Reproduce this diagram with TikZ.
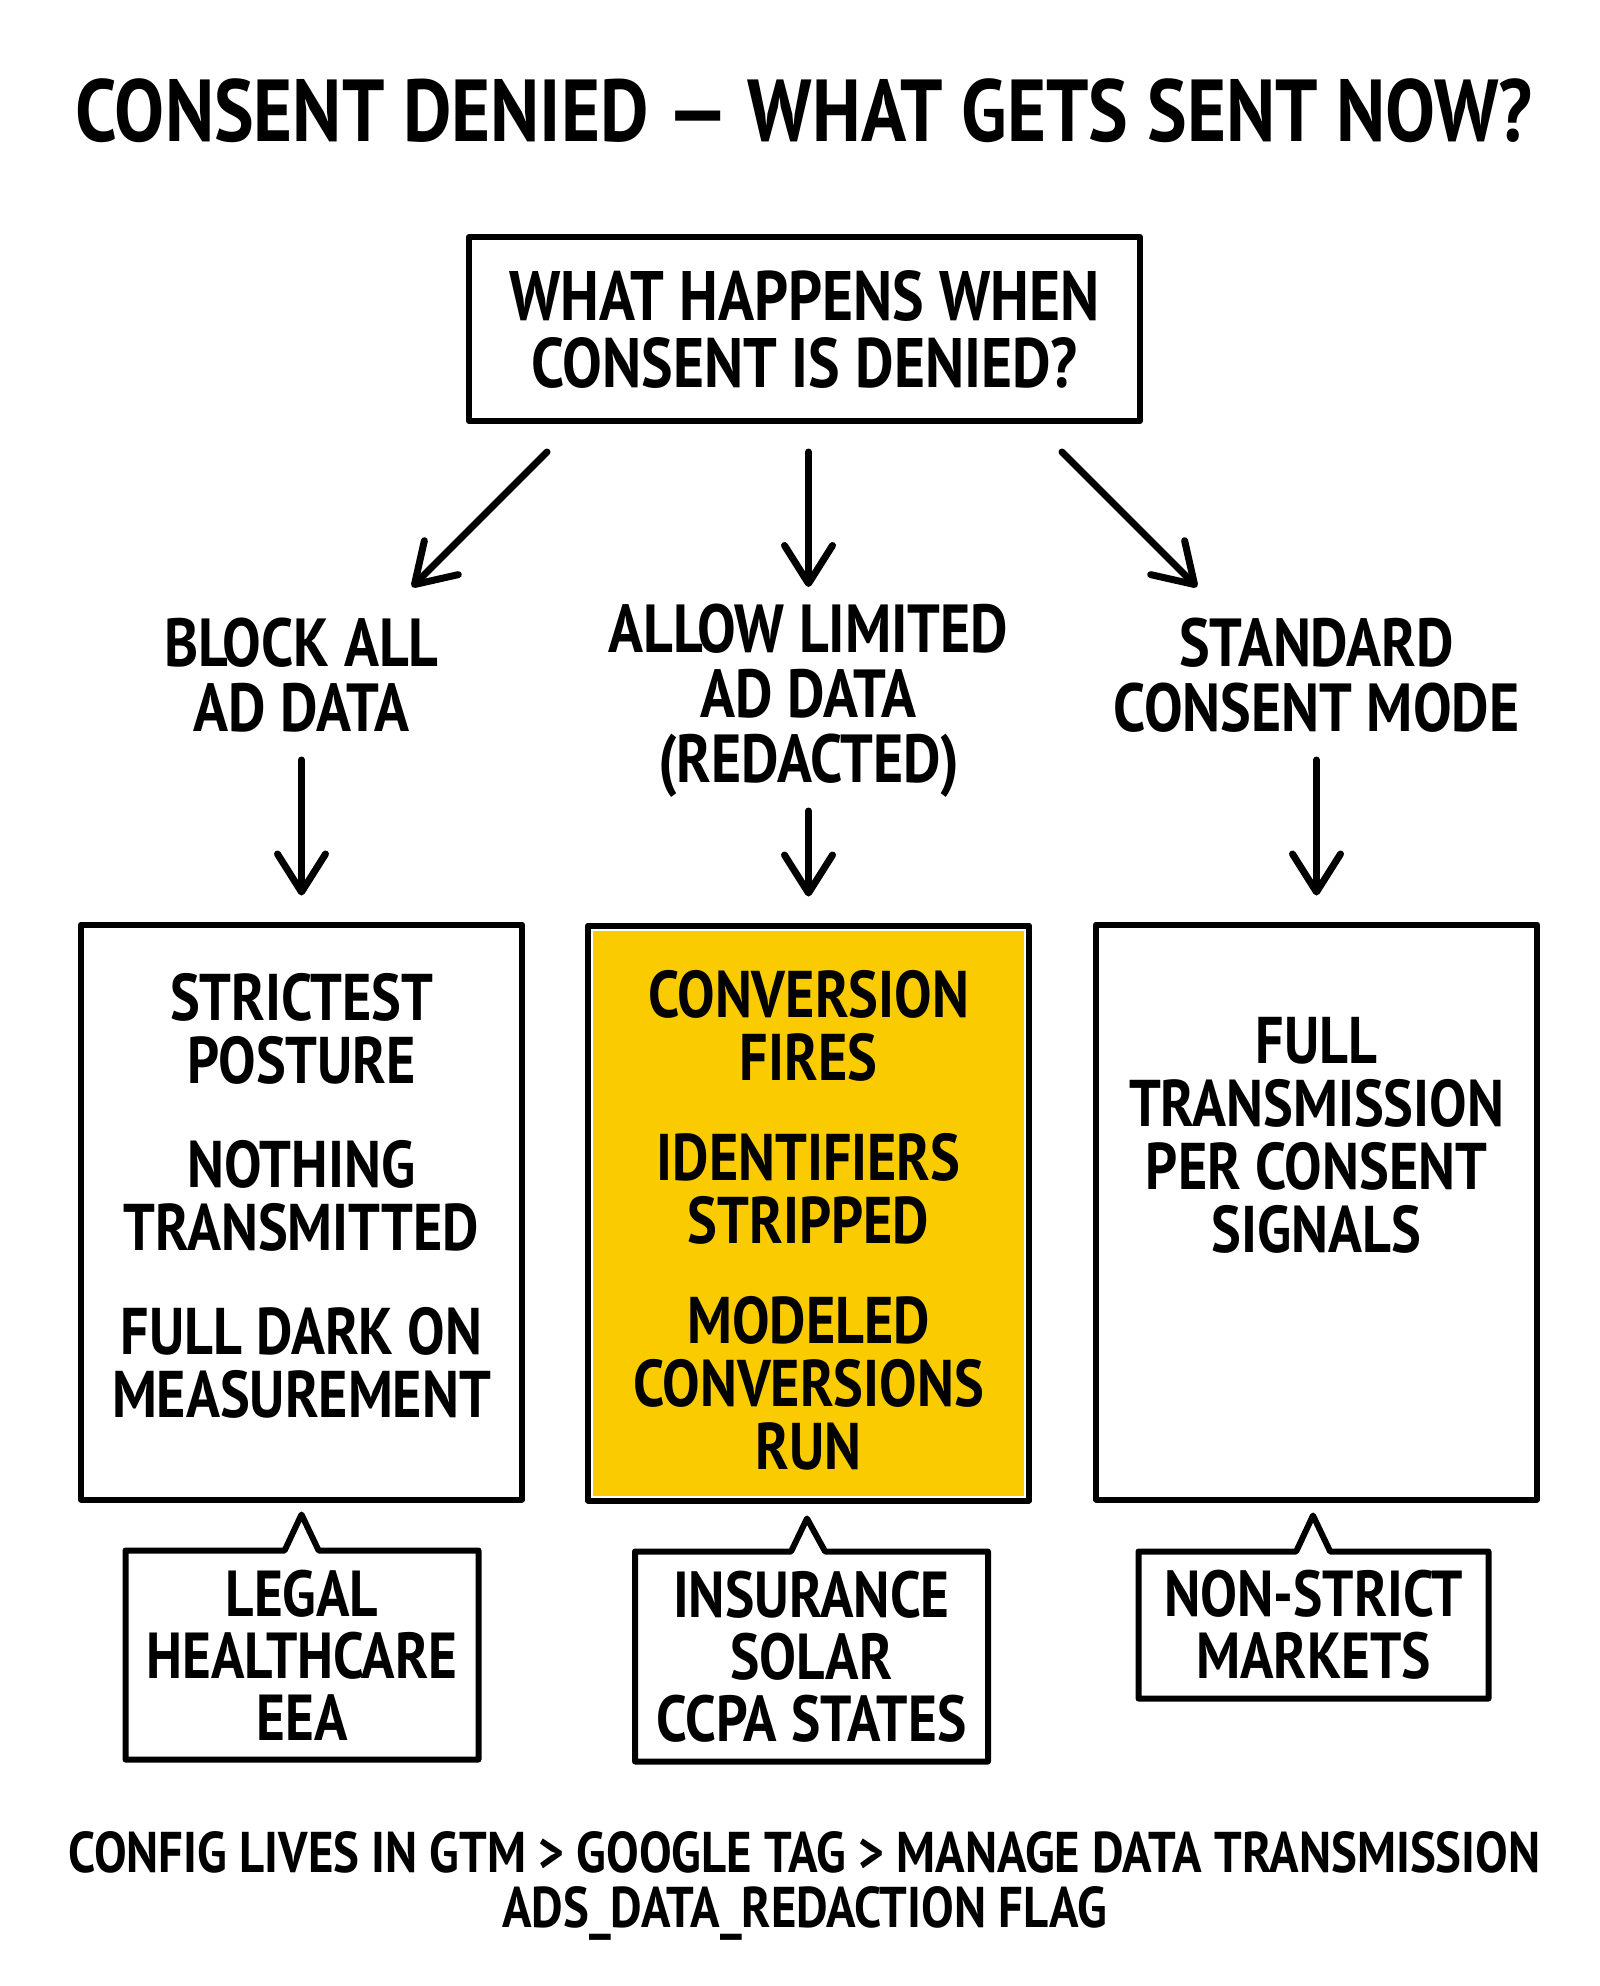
\documentclass[tikz,border=0pt]{standalone}
\usepackage{fontspec}
\setmainfont{PT Sans}[FakeStretch=0.85]
\usetikzlibrary{arrows.meta,shapes.callouts}
\definecolor{marker}{RGB}{250,204,0}

\begin{document}
\begin{tikzpicture}[x=0.5pt,y=-0.5pt,
  > = {Straight Barb[length=19pt,width=24pt,line cap=round,line join=round]},
  arr/.style={->,line width=3.5pt,line cap=round},
  box/.style={draw,line width=3pt,line join=round,inner sep=0pt,
    minimum width=220.5pt,minimum height=287.5pt},
  txt/.style={align=center,inner sep=0pt,font=\bfseries\fontsize{33}{31.5}\selectfont},
  note/.style={rectangle callout,draw,line width=3pt,line join=round,
    callout pointer width=17pt,minimum width=176.5pt,inner sep=0pt,
    align=center,font=\bfseries\fontsize{32.5}{31}\selectfont}]
\fill[white] (0,0) rectangle (1600,1986);
\useasboundingbox (0,0) rectangle (1600,1986);

\node[font=\bfseries\fontsize{44}{44}\selectfont] (title) at (804,111)
  {CONSENT DENIED --- WHAT GETS SENT NOW?};

\node[draw,line width=3pt,line join=round,align=center,minimum width=335.5pt,
  minimum height=92pt,font=\bfseries\fontsize{35}{33.5}\selectfont] (q) at (804.5,329)
  {WHAT HAPPENS WHEN\\CONSENT IS DENIED?};

% the three options
\node[txt,font=\bfseries\fontsize{34}{32.5}\selectfont] (optA) at (301.5,675) {BLOCK ALL\\AD DATA};
\node[txt,font=\bfseries\fontsize{34}{32.5}\selectfont] (optB) at (808.5,701) {ALLOW LIMITED\\AD DATA\\(REDACTED)};
\node[txt,font=\bfseries\fontsize{34}{32.5}\selectfont] (optC) at (1316.5,675) {STANDARD\\CONSENT MODE};

\draw[arr] ([shift={(-257.5,28)}]q.south) -- ([shift={(110.5,-88)}]optA.center);
\draw[arr] ([shift={(4,28)}]q.south) -- ([shift={(0,-114)}]optB.center);
\draw[arr] ([shift={(257.5,28)}]q.south) -- ([shift={(-119.5,-88)}]optC.center);

% result boxes
\node[box] (boxL) at (301.5,1212) {};
\node[box] (boxM) at (808.5,1213) {};
\node[box] (boxR) at (1316.5,1212) {};
\fill[marker] ([shift={(8,8)}]boxM.north west) rectangle ([shift={(-8,-8)}]boxM.south east);

\draw[arr] ([shift={(0,85)}]optA.center) -- ([shift={(0,-26)}]boxL.north);
\draw[arr] ([shift={(0,110)}]optB.center) -- ([shift={(0,-26)}]boxM.north);
\draw[arr] ([shift={(0,85)}]optC.center) -- ([shift={(0,-26)}]boxR.north);

\node[txt] (tL) at (301.5,1196) {STRICTEST\\POSTURE\\[20.5pt]NOTHING\\TRANSMITTED\\[20.5pt]FULL DARK ON\\MEASUREMENT};
\node[txt] (tM) at (808.5,1220) {CONVERSION\\FIRES\\[18.5pt]IDENTIFIERS\\STRIPPED\\[18.5pt]MODELED\\CONVERSIONS\\RUN};
\node[txt] (tR) at (1316.5,1135) {FULL\\TRANSMISSION\\PER CONSENT\\SIGNALS};

% who uses what
\node[note,minimum height=104.5pt,callout absolute pointer={([shift={(0,12)}]boxL.south)}]
  (noteL) at (302,1655) {LEGAL\\HEALTHCARE\\EEA};
\node[note,minimum height=105pt,callout absolute pointer={([shift={(-1.5,15)}]boxM.south)}]
  (noteM) at (811.5,1656.5) {INSURANCE\\SOLAR\\CCPA STATES};
\node[note,minimum width=175pt,minimum height=73.5pt,callout absolute pointer={([shift={(-3.5,13)}]boxR.south)}]
  (noteR) at (1313.5,1625) {NON-STRICT\\MARKETS};

\node[align=center,font=\bfseries\fontsize{28.7}{27.5}\selectfont] (cfg) at (804.5,1885.5)
  {CONFIG LIVES IN GTM > GOOGLE TAG > MANAGE DATA TRANSMISSION\\ADS\_DATA\_REDACTION FLAG};
\end{tikzpicture}
\end{document}
